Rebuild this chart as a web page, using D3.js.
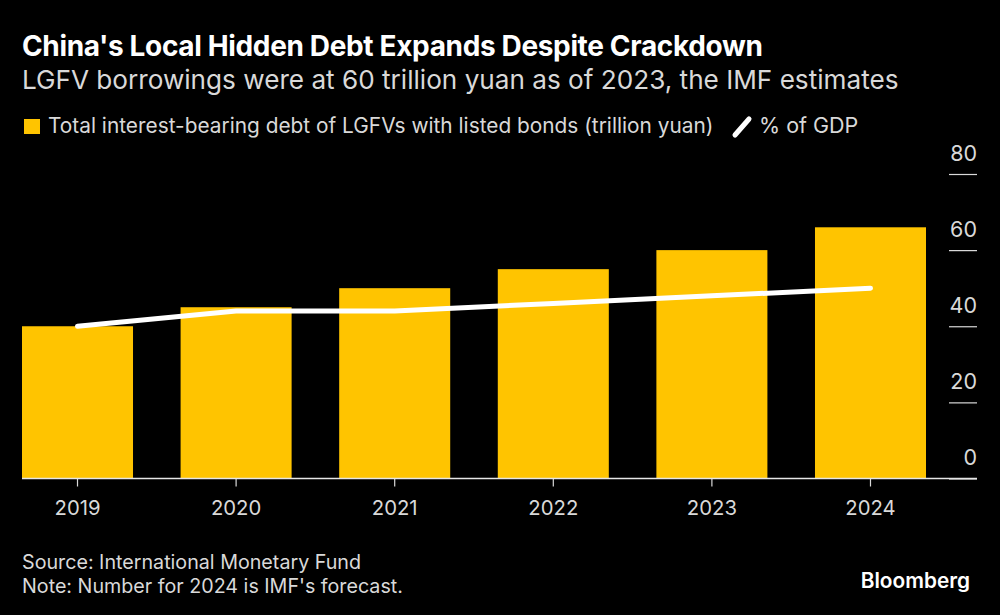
<!DOCTYPE html>
<html>
<head>
<meta charset="utf-8">
<script src="https://cdn.jsdelivr.net/npm/d3@7"></script>
<style>
    html, body { margin: 0; padding: 0; background: #000; }
    svg { display: block; }
    text { font-family: Inter, "Liberation Sans", sans-serif; fill: #d9d9d9; }
    .domain { display: none; }
</style>
</head>
<body>
<svg id="chart" width="1000" height="615"></svg>
<script>
// Values
const years = ["2019", "2020", "2021", "2022", "2023", "2024"];
const debt = [40, 45, 50, 55, 60, 66];
const pctGdp = [40, 44, 44, 46, 48, 50];
const yTicks = [0, 20, 40, 60, 80];

const title = "China's Local Hidden Debt Expands Despite Crackdown";
const subtitle = "LGFV borrowings were at 60 trillion yuan as of 2023, the IMF estimates";
const legendBar = "Total interest-bearing debt of LGFVs with listed bonds (trillion yuan)";
const legendLine = "% of GDP";
const footer = ["Source: International Monetary Fund", "Note: Number for 2024 is IMF's forecast."];

const svg = d3.select("#chart");

const x = d3.scaleBand().domain(years).range([22, 926]).paddingInner(0.3);
const y = d3.scaleLinear().domain([0, 80]).range([478.5, 174]);

// Header
svg.append("text").attr("x", 22).attr("y", 56)
    .style("font-size", "28px").style("font-weight", 700).style("fill", "#fff")
    .style("letter-spacing", "-0.35px").text(title);
svg.append("text").attr("x", 22).attr("y", 89)
    .style("font-size", "26.15px").text(subtitle);

// Legend
svg.append("rect").attr("x", 24).attr("y", 119).attr("width", 16).attr("height", 15).attr("fill", "#ffc400");
svg.append("text").attr("x", 48).attr("y", 133).style("font-size", "20.85px").text(legendBar);
svg.append("line").attr("x1", 735).attr("y1", 135).attr("x2", 749).attr("y2", 119)
    .attr("stroke", "#fff").attr("stroke-width", 5).attr("stroke-linecap", "round");
svg.append("text").attr("x", 759).attr("y", 133).style("font-size", "21.5px").text(legendLine);

// Bars
svg.append("g").selectAll("rect").data(debt).enter().append("rect")
    .attr("x", (d, i) => x(years[i]))
    .attr("y", (d) => y(d))
    .attr("width", x.bandwidth())
    .attr("height", (d) => y(0) - y(d))
    .attr("fill", "#ffc400");

// Right axis: tick lines with the label sitting on top
const yAxis = svg.append("g").attr("transform", "translate(949,0)")
    .call(d3.axisRight(y).tickValues(yTicks).tickSize(28));
yAxis.selectAll("line").attr("stroke", "#d9d9d9").attr("stroke-width", 1.2);
yAxis.selectAll("text")
    .attr("x", 28).attr("y", -14).attr("dy", 0)
    .attr("text-anchor", "end")
    .style("font-size", "21.5px");

// Bottom axis
const xAxis = svg.append("g").attr("transform", `translate(0,${y(0)})`)
    .call(d3.axisBottom(x).tickSize(8).tickPadding(0));
xAxis.selectAll("line").attr("stroke", "#d9d9d9").attr("stroke-width", 1.2);
xAxis.selectAll("text").attr("y", 36.5).attr("dy", 0).style("font-size", "20.3px");
svg.append("line").attr("x1", 22).attr("x2", 977).attr("y1", y(0)).attr("y2", y(0))
    .attr("stroke", "#e6e6e6").attr("stroke-width", 1.5);

// % of GDP line
const line = d3.line()
    .x((d, i) => x(years[i]) + x.bandwidth() / 2)
    .y((d) => y(d))
    .curve(d3.curveLinear);
svg.append("path").datum(pctGdp)
    .attr("d", line)
    .attr("fill", "none")
    .attr("stroke", "#fff")
    .attr("stroke-width", 5)
    .attr("stroke-linecap", "round")
    .attr("stroke-linejoin", "round");

// Footer
svg.selectAll(".foot").data(footer).enter().append("text")
    .attr("class", "foot")
    .attr("x", 22).attr("y", (d, i) => 569 + i * 24)
    .style("font-size", "19.7px")
    .text((d) => d);
svg.append("text").attr("x", 970).attr("y", 588)
    .attr("text-anchor", "end")
    .style("font-size", "20.8px").style("font-weight", 600).style("fill", "#fff")
    .text("Bloomberg");
</script>
</body>
</html>
